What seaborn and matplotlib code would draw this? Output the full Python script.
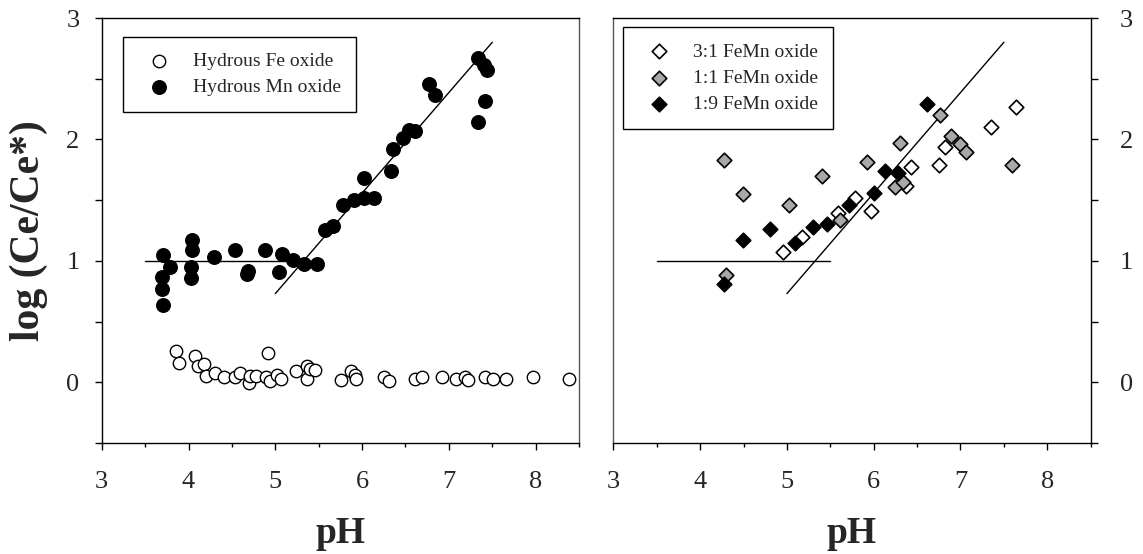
import numpy as np
import pandas as pd
import matplotlib
matplotlib.use("Agg")
import matplotlib.pyplot as plt
import seaborn as sb

# --- data ---
# left panel: hydrous Fe oxide (open circles)
fe_ph = [3.86, 3.89, 4.07, 4.11, 4.18, 4.20, 4.31, 4.41, 4.54, 4.59, 4.70, 4.71,
         4.78, 4.89, 4.92, 4.94, 5.02, 5.07, 5.24, 5.36, 5.37, 5.40, 5.46, 5.76,
         5.87, 5.92, 5.93, 6.25, 6.31, 6.61, 6.69, 6.92, 7.08, 7.19, 7.22, 7.42,
         7.51, 7.66, 7.97, 8.39]
fe_ce = [0.26, 0.16, 0.22, 0.13, 0.15, 0.05, 0.08, 0.04, 0.04, 0.08, -0.01, 0.05,
         0.05, 0.04, 0.24, 0.01, 0.06, 0.03, 0.09, 0.13, 0.03, 0.11, 0.10, 0.02,
         0.09, 0.06, 0.03, 0.04, 0.01, 0.03, 0.04, 0.04, 0.03, 0.04, 0.02, 0.04,
         0.03, 0.03, 0.04, 0.03]

# left panel: hydrous Mn oxide (filled circles)
mn_ph = [3.71, 3.79, 3.70, 3.69, 3.71, 4.04, 4.04, 4.03, 4.03, 4.29, 4.54, 4.67,
         4.69, 4.88, 5.04, 5.08, 5.20, 5.33, 5.48, 5.57, 5.67, 5.78, 5.91, 6.02,
         6.14, 6.02, 6.33, 6.36, 6.47, 6.54, 6.61, 6.77, 6.84, 7.33, 7.40, 7.44,
         7.42, 7.33]
mn_ce = [1.05, 0.95, 0.87, 0.77, 0.64, 1.17, 1.09, 0.95, 0.86, 1.03, 1.09, 0.89,
         0.92, 1.09, 0.91, 1.06, 1.01, 0.97, 0.97, 1.25, 1.29, 1.46, 1.50, 1.52,
         1.52, 1.68, 1.74, 1.92, 2.01, 2.08, 2.07, 2.46, 2.37, 2.67, 2.61, 2.57,
         2.32, 2.14]

# right panel: mixed Fe-Mn oxides (diamonds)
fm31_ph = [7.64, 7.35, 6.82, 6.75, 6.43, 6.37, 5.78, 5.17, 4.96, 5.59, 5.97]
fm31_ce = [2.27, 2.10, 1.94, 1.79, 1.77, 1.62, 1.52, 1.20, 1.07, 1.39, 1.41]

fm11_ph = [4.27, 4.49, 5.40, 5.92, 6.30, 6.76, 6.89, 6.99, 7.06, 7.59, 6.25,
           6.34, 5.02, 5.61, 4.30]
fm11_ce = [1.83, 1.55, 1.70, 1.81, 1.97, 2.20, 2.03, 1.96, 1.90, 1.79, 1.61,
           1.65, 1.46, 1.34, 0.88]

fm19_ph = [6.61, 6.13, 6.28, 6.00, 4.49, 4.81, 5.09, 5.30, 5.46, 5.71, 4.27]
fm19_ce = [2.29, 1.74, 1.72, 1.56, 1.17, 1.26, 1.15, 1.28, 1.30, 1.46, 0.81]

# reference lines
flat_x = [3.5, 5.25]
flat_y = [1.0, 1.0]
flat_x_r = [3.5, 5.5]
rise_x = [5.0, 7.5]
rise_y = [0.73, 2.8]

x_major = [3, 4, 5, 6, 7, 8]
x_minor = [3.5, 4.5, 5.5, 6.5, 7.5, 8.5]
y_major = [0, 1, 2, 3]
y_minor = [-0.5, 0.5, 1.5, 2.5]

sb.set_style("ticks")
plt.rcParams['font.family'] = ['Liberation Serif', 'DejaVu Serif']

fig = plt.figure(figsize=(11.43, 5.54), dpi=100)
ax1 = fig.add_axes([0.0890, 0.2004, 0.4176, 0.7671])
ax2 = fig.add_axes([0.5366, 0.2004, 0.4176, 0.7671])

# left panel
sb.lineplot(x=flat_x, y=flat_y, ax=ax1, color="black", lw=1)
sb.lineplot(x=rise_x, y=rise_y, ax=ax1, color="black", lw=1)
sb.scatterplot(x=fe_ph, y=fe_ce, ax=ax1, s=80, marker="o", facecolor="white",
               edgecolor="black", linewidth=1, label="Hydrous Fe oxide", zorder=3)
sb.scatterplot(x=mn_ph, y=mn_ce, ax=ax1, s=95, marker="o", color="black",
               edgecolor="black", linewidth=1, label="Hydrous Mn oxide", zorder=3)

# right panel
sb.lineplot(x=flat_x_r, y=flat_y, ax=ax2, color="black", lw=1)
sb.lineplot(x=rise_x, y=rise_y, ax=ax2, color="black", lw=1)
sb.scatterplot(x=fm31_ph, y=fm31_ce, ax=ax2, s=55, marker="D", facecolor="white",
               edgecolor="black", linewidth=1.2, label="3:1 FeMn oxide", zorder=3)
sb.scatterplot(x=fm11_ph, y=fm11_ce, ax=ax2, s=55, marker="D", color="#a8a8a8",
               edgecolor="black", linewidth=1.2, label="1:1 FeMn oxide", zorder=3)
sb.scatterplot(x=fm19_ph, y=fm19_ce, ax=ax2, s=55, marker="D", color="black",
               edgecolor="black", linewidth=1.2, label="1:9 FeMn oxide", zorder=3)

for ax in (ax1, ax2):
    ax.set_xlim(3, 8.5)
    ax.set_ylim(-0.5, 3)
    ax.set_xticks(x_major)
    ax.set_xticks(x_minor, minor=True)
    ax.set_yticks(y_major)
    ax.set_yticks(y_minor, minor=True)
    ax.tick_params(axis="x", which="major", length=5, width=1, color="black",
                   labelsize=19, pad=15, direction="out")
    ax.tick_params(axis="x", which="minor", length=3, width=1, color="black",
                   direction="out")
    ax.tick_params(axis="y", which="both", length=5, width=1, color="black",
                   labelsize=19, direction="out")
    ax.set_xlabel("pH", fontsize=27, fontweight="bold")
    ax.xaxis.set_label_coords(0.5, -0.171)
    for sp in ax.spines.values():
        sp.set_linewidth(1)
        sp.set_color("black")

ax1.tick_params(axis="y", which="major", pad=11)
ax1.set_ylabel("log (Ce/Ce*)", fontsize=30, fontweight="bold")
ax1.yaxis.set_label_coords(-0.113, 0.5)
ax1.spines["right"].set_color("#555555")

ax2.yaxis.tick_right()
ax2.tick_params(axis="y", which="major", pad=16)
ax2.set_ylabel("")
ax2.spines["left"].set_color("#555555")

leg_kw = dict(loc="upper left", borderaxespad=0, fontsize=14, frameon=True,
              fancybox=False, shadow=False, borderpad=0.8, handlelength=2.1,
              handletextpad=0.7, labelspacing=0.45, framealpha=1)
l1 = ax1.legend(bbox_to_anchor=(0.044, 0.956), **leg_kw)
l2 = ax2.legend(bbox_to_anchor=(0.0197, 0.978), **leg_kw)
for lg in (l1, l2):
    lg.get_frame().set_edgecolor("black")
    lg.get_frame().set_linewidth(1)

fig.savefig("out.png", dpi=100)
